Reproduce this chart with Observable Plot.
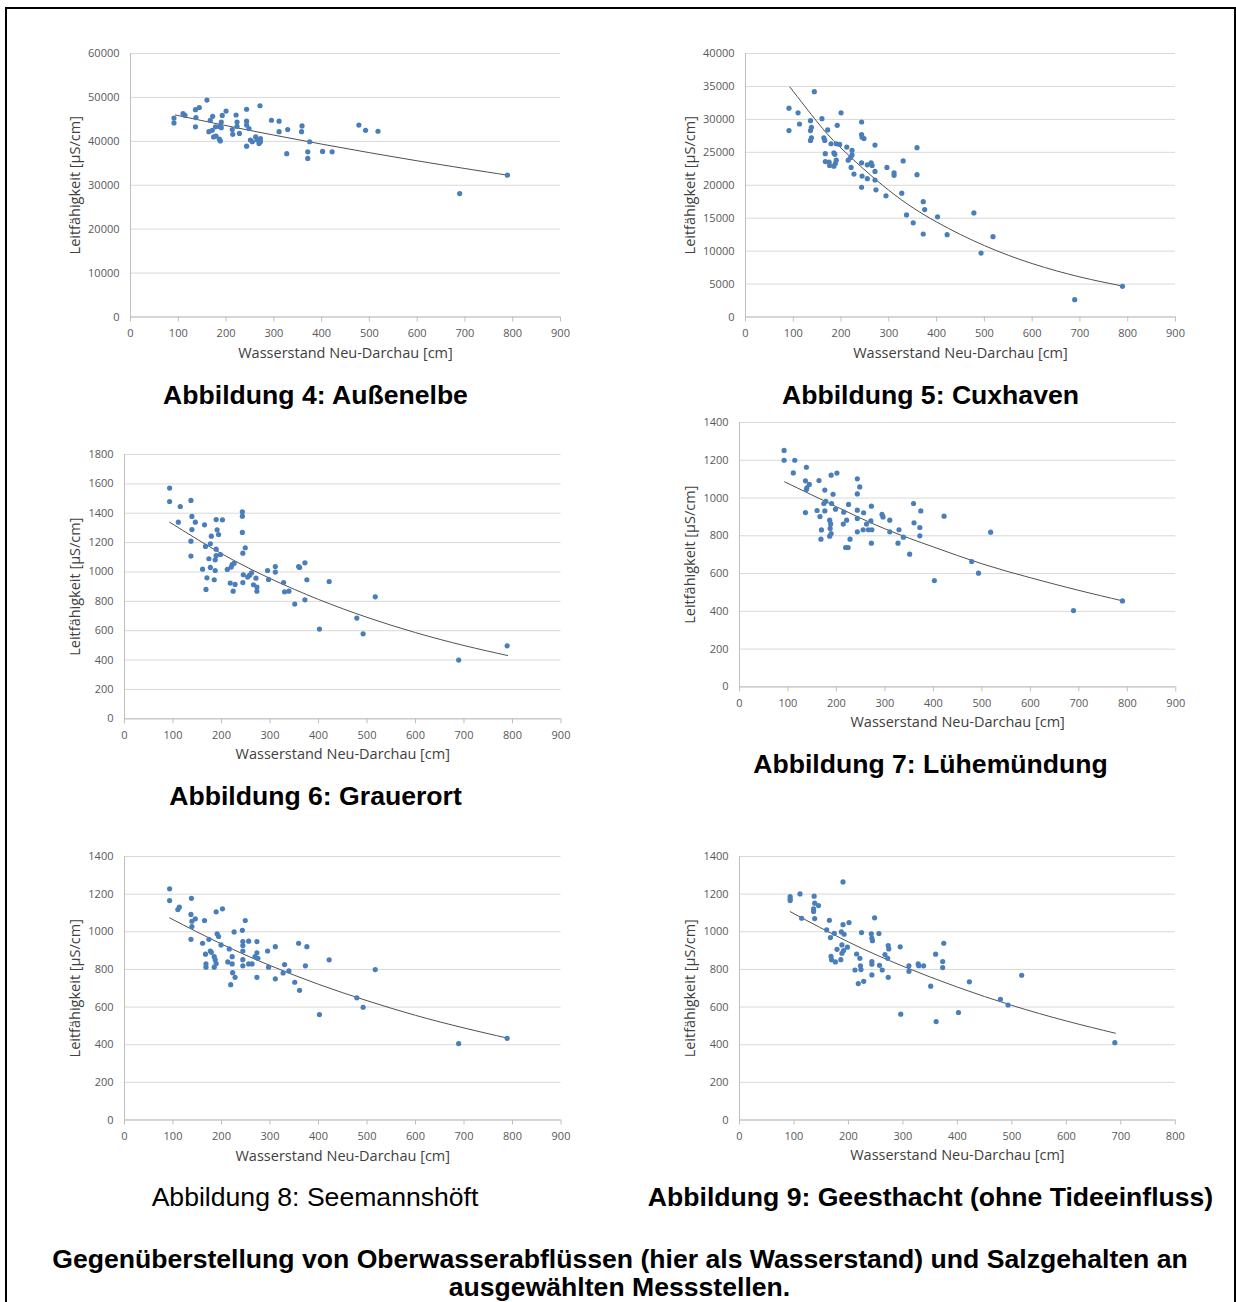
<!DOCTYPE html>
<html><head><meta charset="utf-8">
<script src="https://cdn.jsdelivr.net/npm/d3@7"></script>
<script src="https://cdn.jsdelivr.net/npm/@observablehq/plot@0.6"></script>
<style>
body{margin:0;background:#fff;}
#page{position:relative;width:1236px;height:1302px;overflow:hidden;background:#fff;}
#frame{position:absolute;left:5px;top:7px;width:1231px;height:1400px;border:2px solid #000;box-sizing:border-box;}
.panel{position:absolute;}
.cap{position:absolute;font-family:"Liberation Sans",Arial,sans-serif;font-size:26.6px;font-weight:bold;color:#000;white-space:nowrap;line-height:1;transform:translate(-50%,-50%);}
.cap.normal{font-weight:normal;}
</style></head><body><div id="page"><div id="frame"></div></div>
<script>
// ---- data (x = Wasserstand Neu-Darchau [cm], y = Leitfähigkeit [µS/cm]) ----
const aussenelbe = [[91,45300],[91,44200],[110,46300],[114,45900],[136,47200],[144,47700],[137,45400],[136,43300],[160,49400],[164,42200],[171,42500],[167,44800],[172,45700],[174,41000],[178,43300],[179,41200],[186,40500],[188,40100],[186,43400],[190,44400],[192,45900],[190,43100],[200,46900],[221,46000],[213,42700],[214,41600],[223,44400],[223,43400],[228,41800],[243,47300],[243,44600],[243,43700],[248,42900],[243,38900],[251,40300],[255,39900],[262,41000],[265,40300],[269,39500],[272,40600],[272,39900],[271,48100],[295,44800],[311,44600],[311,42200],[329,42700],[327,37200],[359,43500],[358,42200],[375,39900],[371,37600],[371,36100],[402,37700],[422,37600],[478,43700],[492,42500],[518,42300],[689,28100],[789,32300]];
const aussenelbeTrend = [[94,46000],[200,43580],[300,41420],[400,39370],[500,37420],[600,35570],[700,33810],[789,32300]];

const cuxhaven = [[91,31700],[91,28300],[110,31000],[113,29300],[136,29800],[138,28800],[136,28300],[138,27200],[136,26800],[144,34200],[160,30100],[164,27200],[166,26800],[167,24800],[167,23600],[172,28400],[175,23500],[176,23000],[179,26300],[185,24900],[187,24700],[185,22900],[188,23300],[190,23800],[192,29100],[190,26300],[197,26200],[200,31000],[212,25800],[215,23800],[220,24200],[221,22700],[223,25300],[223,24600],[227,21700],[243,29600],[243,27700],[244,27300],[248,27100],[243,23400],[244,21400],[243,19700],[255,23100],[255,21000],[263,23400],[265,23000],[271,26100],[271,22100],[271,20800],[273,19300],[294,18400],[296,22700],[311,21900],[311,21500],[327,18800],[330,23700],[337,15500],[351,14300],[359,25700],[359,21600],[372,17500],[375,16300],[372,12600],[402,15200],[422,12500],[478,15800],[493,9700],[518,12200],[689,2630],[789,4660]];
const cuxhavenTrend = [[93,34900],[150,29620],[200,25650],[300,19230],[400,14420],[500,10840],[600,8110],[700,6080],[785,4760]];

const grauerort = [[93,1571],[93,1480],[111,1339],[115,1446],[137,1487],[139,1378],[139,1289],[137,1210],[137,1108],[146,1339],[165,1321],[167,1174],[168,881],[170,960],[161,1019],[174,1090],[177,1031],[177,1192],[179,1244],[185,947],[187,1010],[189,1357],[189,1155],[189,1112],[187,1083],[191,1287],[194,1255],[198,1119],[202,1355],[212,1017],[218,924],[220,1033],[222,1051],[224,869],[226,1060],[228,915],[243,1410],[243,1380],[243,1269],[244,1128],[244,928],[245,981],[249,1165],[254,965],[258,978],[262,994],[266,913],[271,958],[273,897],[273,869],[295,1010],[297,949],[311,1037],[311,999],[328,928],[330,865],[339,869],[351,781],[359,1037],[361,1031],[372,1062],[372,810],[376,947],[402,611],[422,935],[479,686],[492,579],[517,831],[689,400],[789,497]];
const grauerortTrend = [[93,1339],[200,1125],[300,956],[400,813],[500,691],[600,587],[700,499],[790,431]];

const luehemuendung = [[92,1252],[92,1200],[114,1200],[111,1133],[138,1163],[136,1091],[139,1054],[138,1045],[144,1072],[136,923],[160,934],[164,1093],[166,902],[169,831],[168,782],[176,1042],[176,932],[174,971],[178,983],[186,883],[188,863],[187,839],[189,812],[186,798],[190,971],[189,1121],[193,1020],[198,941],[201,1132],[214,862],[215,925],[219,738],[224,738],[221,883],[225,966],[228,782],[243,1102],[248,1059],[243,1022],[243,936],[243,892],[243,821],[256,922],[255,832],[262,862],[266,832],[272,957],[271,879],[273,832],[272,761],[294,913],[296,900],[310,883],[310,821],[329,832],[327,761],[338,793],[351,703],[359,971],[360,869],[372,844],[372,800],[374,932],[402,563],[422,904],[479,664],[493,602],[518,819],[689,404],[790,455]];
const luehemuendungTrend = [[93,1086],[200,954],[300,837],[400,741],[500,652],[600,578],[700,511],[788,457]];

const seemannshoeft = [[93,1228],[93,1166],[110,1118],[113,1131],[138,1178],[137,1092],[139,1056],[139,1028],[146,1069],[137,960],[161,939],[165,1060],[167,881],[168,829],[168,812],[174,960],[177,898],[179,891],[185,868],[185,812],[187,852],[189,831],[189,1106],[191,989],[194,975],[199,930],[202,1122],[213,840],[216,909],[219,719],[222,868],[222,829],[223,783],[226,999],[228,758],[243,1008],[244,948],[244,927],[244,898],[244,852],[244,819],[249,1060],[256,950],[256,829],[263,829],[269,868],[273,888],[273,948],[273,758],[275,859],[295,898],[297,812],[311,921],[311,750],[330,826],[327,781],[339,792],[351,732],[359,939],[361,689],[373,819],[376,921],[402,560],[422,851],[479,649],[492,599],[517,799],[689,406],[789,434]];
const seemannshoeftTrend = [[93,1074],[200,935],[300,821],[400,721],[500,634],[600,556],[700,489],[788,436]];

const geesthacht = [[93,1187],[93,1175],[93,1166],[111,1201],[114,1072],[137,1189],[138,1152],[136,1122],[136,1108],[138,1070],[145,1139],[160,1010],[165,1061],[167,969],[168,870],[169,851],[174,992],[176,840],[179,907],[186,852],[187,999],[188,930],[188,886],[190,1265],[190,1038],[191,900],[192,987],[198,918],[201,1049],[212,797],[215,882],[218,725],[221,859],[222,819],[223,799],[224,996],[228,737],[242,989],[243,967],[244,953],[243,842],[243,828],[243,771],[248,1074],[256,991],[257,822],[262,797],[267,879],[272,859],[273,927],[274,909],[273,758],[295,920],[296,562],[311,819],[311,790],[328,829],[329,820],[338,819],[351,711],[360,881],[361,523],[373,842],[373,810],[375,939],[402,571],[422,734],[479,641],[493,611],[518,769],[689,411]];
const geesthachtTrend = [[93,1107],[200,946],[300,817],[400,706],[500,609],[600,526],[690,461]];

// ---- tick labels ----
const xTicks900 = [0,100,200,300,400,500,600,700,800,900];
const xTicks800 = [0,100,200,300,400,500,600,700,800];
const yTicks60000 = [0,10000,20000,30000,40000,50000,60000];
const yTicks40000 = [0,5000,10000,15000,20000,25000,30000,35000,40000];
const yTicks1800 = [0,200,400,600,800,1000,1200,1400,1600,1800];
const yTicks1400 = [0,200,400,600,800,1000,1200,1400];

const xTitle = "Wasserstand Neu-Darchau [cm]";
const yTitle = "Leitfähigkeit [µS/cm]";

const captions = [
  {text:"Abbildung 4: Außenelbe", x:315.5, y:395, bold:true},
  {text:"Abbildung 5: Cuxhaven", x:930.5, y:395, bold:true},
  {text:"Abbildung 6: Grauerort", x:315.5, y:796, bold:true},
  {text:"Abbildung 7: Lühemündung", x:930.5, y:764, bold:true},
  {text:"Abbildung 8: Seemannshöft", x:315, y:1197, bold:false},
  {text:"Abbildung 9: Geesthacht (ohne Tideeinfluss)", x:930.5, y:1197, bold:true},
  {text:"Gegenüberstellung von Oberwasserabflüssen (hier als Wasserstand) und Salzgehalten an", x:620, y:1259, bold:true},
  {text:"ausgewählten Messstellen.", x:619.5, y:1287, bold:true}
];

// ---- layout (frame positions on the page) ----
const panels = [
  {data:aussenelbe, trend:aussenelbeTrend, xTicks:xTicks900, yTicks:yTicks60000, fx0:130, fx1:560, fy0:53, fy1:316.5, ytDx:-55},
  {data:cuxhaven, trend:cuxhavenTrend, xTicks:xTicks900, yTicks:yTicks40000, fx0:745, fx1:1175, fy0:53, fy1:316.5, ytDx:-55},
  {data:grauerort, trend:grauerortTrend, xTicks:xTicks900, yTicks:yTicks1800, fx0:123.5, fx1:560, fy0:454, fy1:718.3, ytDx:-49},
  {data:luehemuendung, trend:luehemuendungTrend, xTicks:xTicks900, yTicks:yTicks1400, fx0:738.7, fx1:1175, fy0:422.3, fy1:686.7, ytDx:-49},
  {data:seemannshoeft, trend:seemannshoeftTrend, xTicks:xTicks900, yTicks:yTicks1400, fx0:123.5, fx1:560, fy0:856, fy1:1119.5, ytDx:-49},
  {data:geesthacht, trend:geesthachtTrend, xTicks:xTicks800, yTicks:yTicks1400, fx0:738.7, fx1:1174.5, fy0:856, fy1:1119.5, ytDx:-49}
];

const page = document.getElementById("page");
const ML = 75, MR = 25, MT = 15, MB = 60;

for (const p of panels) {
  const fw = p.fx1 - p.fx0, fh = p.fy1 - p.fy0;
  const xMax = p.xTicks[p.xTicks.length - 1];
  const yMax = p.yTicks[p.yTicks.length - 1];
  const chart = Plot.plot({
    width: fw + ML + MR,
    height: fh + MT + MB,
    marginLeft: ML, marginRight: MR, marginTop: MT, marginBottom: MB,
    style: {fontFamily: "'Open Sans', sans-serif", fontSize: "11px", color: "#595959", background: "transparent", overflow: "visible"},
    x: {domain: [0, xMax]},
    y: {domain: [0, yMax]},
    marks: [
      Plot.gridY(p.yTicks, {stroke: "#d9d9d9", strokeOpacity: 1, strokeWidth: 1}),
      Plot.ruleX([0], {stroke: "#bfbfbf"}),
      Plot.ruleY([0], {stroke: "#bfbfbf"}),
      Plot.axisX(p.xTicks, {tickSize: 5, tickPadding: 7, stroke: "#bfbfbf", label: null, tickFormat: d => String(d)}),
      Plot.axisY(p.yTicks, {tickSize: 0, tickPadding: 11, label: null, tickFormat: d => String(d)}),
      Plot.line(p.trend, {x: d => d[0], y: d => d[1], stroke: "#505050", strokeWidth: 1, curve: "natural"}),
      Plot.dot(p.data, {x: d => d[0], y: d => d[1], r: 2.6, fill: "#4a7ebb", stroke: "none"}),
      Plot.text([xTitle], {text: d => d, frameAnchor: "bottom", dy: 40.5, fontSize: 14.5, fill: "#404040"}),
      Plot.text([yTitle], {text: d => d, frameAnchor: "left", textAnchor: "middle", dx: p.ytDx, rotate: -90, fontSize: 14.5, fill: "#404040"})
    ]
  });
  const wrap = document.createElement("div");
  wrap.className = "panel";
  wrap.style.left = (p.fx0 - ML) + "px";
  wrap.style.top = (p.fy0 - MT) + "px";
  wrap.appendChild(chart);
  page.appendChild(wrap);
}

for (const c of captions) {
  const d = document.createElement("div");
  d.className = "cap" + (c.bold ? "" : " normal");
  d.textContent = c.text;
  d.style.left = c.x + "px";
  d.style.top = c.y + "px";
  page.appendChild(d);
}
</script></body></html>
